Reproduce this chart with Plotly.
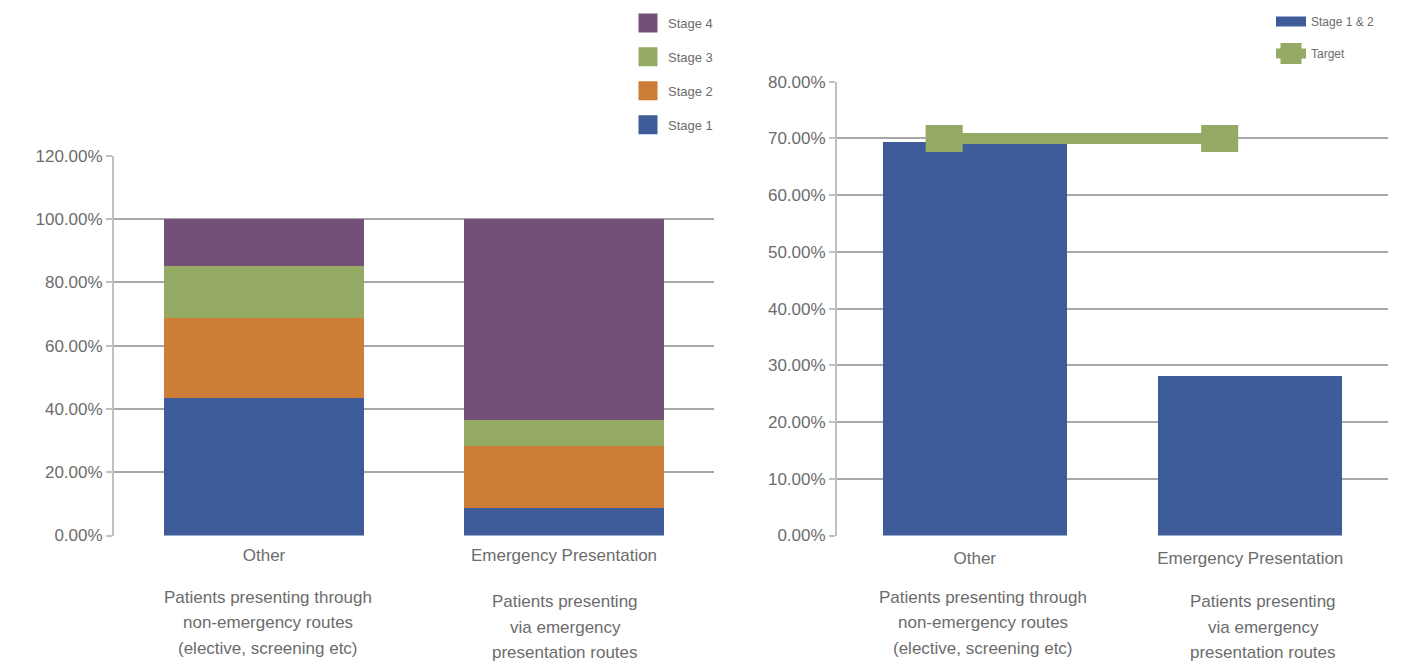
import plotly.graph_objects as go

# ---- data -------------------------------------------------------------
routes = ["Other", "Emergency Presentation"]

stage_names = ["Stage 1", "Stage 2", "Stage 3", "Stage 4"]
stage1 = [43.4, 8.7]
stage2 = [25.4, 19.6]
stage3 = [16.4, 8.2]
stage4 = [14.8, 63.5]

early_stage = [69.3, 28.2]      # Stage 1 & 2 combined
target = [70.0, 70.0]

notes = [
    ["Patients presenting through", "non-emergency routes", "(elective, screening etc)"],
    ["Patients presenting", "via emergency", "presentation routes"],
]

# ---- styling ------------------------------------------------------------
BLUE = "#3d5c99"
ORANGE = "#cd7e36"
GREEN = "#94aa65"
PURPLE = "#735077"
TEXT = "#6c6c6c"
GRID = "#a8a8a8"
AXIS = "#c0c0c0"
FONT = "Liberation Sans, Arial, sans-serif"

W, H = 1407, 662

def px_x(p):
    return p / W

def px_y(p):
    return (H - p) / H

fig = go.Figure()

# stacked stage bars (left panel)
stage_values = [stage1, stage2, stage3, stage4]
stage_colors = [BLUE, ORANGE, GREEN, PURPLE]
for name, vals, col in zip(stage_names, stage_values, stage_colors):
    fig.add_trace(go.Bar(
        x=routes, y=vals, name=name, marker=dict(color=col, line=dict(width=0)),
        xaxis="x", yaxis="y", showlegend=False,
    ))

# legend keys for the left panel, drawn as large squares
for rank, (name, col) in enumerate(zip(stage_names, stage_colors)):
    fig.add_trace(go.Scatter(
        x=[None], y=[None], name=name, mode="markers",
        marker=dict(symbol="square", size=16, color=col,
                    line=dict(color=col, width=3)),
        xaxis="x", yaxis="y", legend="legend", legendgroup=name,
        legendrank=1000 - rank,
    ))

# early-stage bars and target line (right panel)
fig.add_trace(go.Bar(
    x=routes, y=early_stage, name="Stage 1 & 2",
    marker=dict(color=BLUE, line=dict(width=0)),
    xaxis="x2", yaxis="y2", showlegend=False,
))

fig.add_trace(go.Scatter(
    x=routes, y=target, name="Target", mode="lines+markers",
    line=dict(color=GREEN, width=11),
    marker=dict(symbol="line-ew", size=26.5, color=GREEN,
                line=dict(color=GREEN, width=27)),
    xaxis="x3", yaxis="y2", showlegend=False,
))

# legend keys for the right panel
fig.add_trace(go.Scatter(
    x=[None], y=[None], name="Stage 1 & 2", mode="lines",
    line=dict(color=BLUE, width=14),
    xaxis="x2", yaxis="y2", legend="legend2", legendgroup="s12",
))
fig.add_trace(go.Scatter(
    x=[None], y=[None], name="Target", mode="lines+markers",
    line=dict(color=GREEN, width=12),
    marker=dict(symbol="square", size=16, color=GREEN,
                line=dict(color=GREEN, width=5)),
    xaxis="x2", yaxis="y2", legend="legend2", legendgroup="tgt",
))

tickfont = dict(family=FONT, size=17, color=TEXT)

axis_common = dict(
    showline=True, linecolor=AXIS, linewidth=2,
    showgrid=True, gridcolor=GRID, gridwidth=1.5,
    ticks="outside", ticklen=6, tickcolor=AXIS, tickwidth=2,
    tickfont=tickfont, zeroline=False, fixedrange=True,
    ticksuffix="%", tickformat=".2f",
)

fig.update_layout(
    width=W, height=H,
    margin=dict(l=0, r=0, t=0, b=0, autoexpand=False),
    paper_bgcolor="white", plot_bgcolor="white",
    barmode="stack", bargap=0.333,
    font=dict(family=FONT, color=TEXT),
    showlegend=True,
    xaxis=dict(domain=[px_x(114), px_x(714)], anchor="y",
               showline=False, showgrid=False, ticks="",
               tickfont=tickfont, ticklabelstandoff=7, fixedrange=True),
    yaxis=dict(domain=[px_y(535.5), px_y(155.7)], anchor="x",
               range=[0, 120], dtick=20, **axis_common),
    xaxis2=dict(domain=[px_x(837), px_x(1388)], anchor="y2",
                showline=False, showgrid=False, ticks="",
                tickfont=tickfont, ticklabelstandoff=10, fixedrange=True),
    yaxis2=dict(domain=[px_y(535.5), px_y(81.7)], anchor="x2",
                range=[0, 80], dtick=10, **axis_common),
    xaxis3=dict(domain=[px_x(837), px_x(1388)], anchor="y2", overlaying="x2",
                type="category", range=[-0.389, 1.611], visible=False,
                fixedrange=True),
    legend=dict(x=px_x(628), y=px_y(8), xanchor="left", yanchor="top",
                traceorder="grouped", tracegroupgap=14,
                font=dict(family=FONT, size=13, color=TEXT),
                bgcolor="rgba(0,0,0,0)"),
    legend2=dict(x=px_x(1271), y=px_y(7), xanchor="left", yanchor="top",
                 traceorder="grouped", tracegroupgap=13,
                 font=dict(family=FONT, size=12, color=TEXT),
                 bgcolor="rgba(0,0,0,0)"),
)

# descriptive notes under each category
note_font = dict(family=FONT, size=17, color=TEXT)
line_y = [[597, 622, 648], [601, 627, 652]]
placements = [
    ("x", routes[0], 4, line_y[0], notes[0]),
    ("x", routes[1], 1, line_y[1], notes[1]),
    ("x2", routes[0], 8, line_y[0], notes[0]),
    ("x2", routes[1], 13, line_y[1], notes[1]),
]
for xref, cat, shift, ys, lines in placements:
    for yy, txt in zip(ys, lines):
        fig.add_annotation(
            x=cat, xref=xref, y=px_y(yy), yref="paper",
            text=txt, showarrow=False, xshift=shift,
            xanchor="center", yanchor="middle", font=note_font,
        )

fig.write_html("out.html")
